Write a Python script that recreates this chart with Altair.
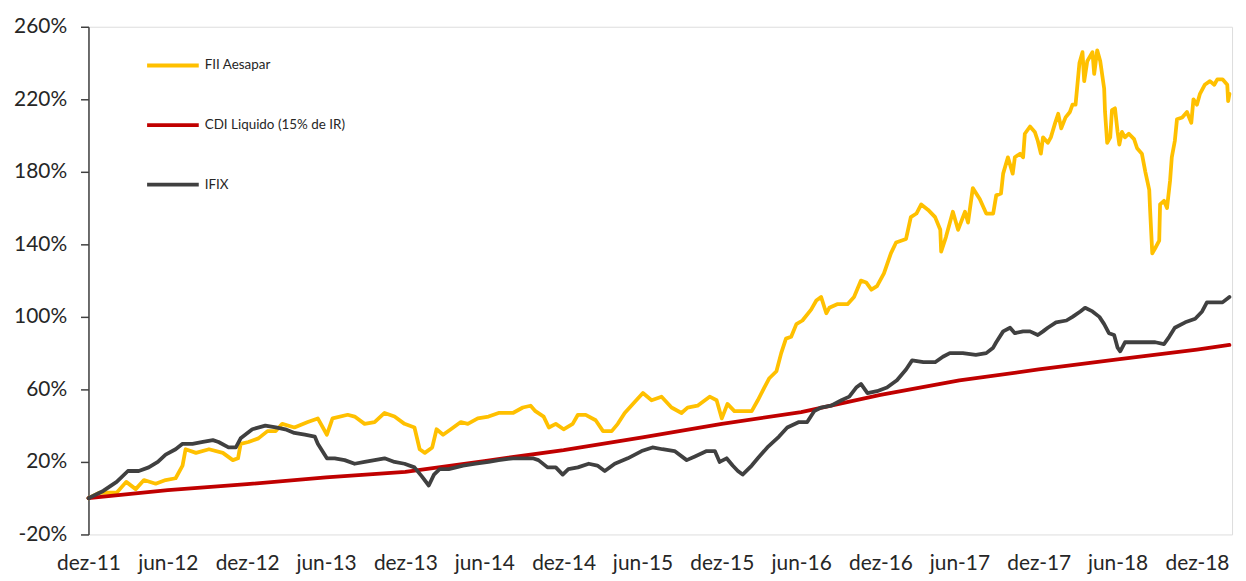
import altair as alt
import pandas as pd

# ---------------- data ----------------
fii_dates = [
    "2011-12-01", "2011-12-26", "2012-02-04", "2012-02-26", "2012-03-19", "2012-04-07", "2012-05-04",
    "2012-05-27", "2012-06-19", "2012-07-05", "2012-07-12", "2012-08-05", "2012-09-04", "2012-10-06",
    "2012-10-29", "2012-11-10", "2012-11-16", "2012-12-04", "2012-12-27", "2013-01-17", "2013-02-05",
    "2013-02-20", "2013-03-20", "2013-04-20", "2013-05-13", "2013-06-03", "2013-06-16", "2013-07-21",
    "2013-08-06", "2013-08-29", "2013-09-21", "2013-10-14", "2013-11-06", "2013-11-29", "2013-12-22",
    "2014-01-03", "2014-01-15", "2014-02-01", "2014-02-11", "2014-02-26", "2014-03-16", "2014-04-08",
    "2014-04-24", "2014-05-17", "2014-06-11", "2014-07-04", "2014-08-06", "2014-08-29", "2014-09-16",
    "2014-09-27", "2014-10-16", "2014-10-28", "2014-11-13", "2014-12-01", "2014-12-22", "2015-01-03",
    "2015-01-21", "2015-02-13", "2015-03-02", "2015-03-22", "2015-04-05", "2015-04-21", "2015-05-14",
    "2015-06-02", "2015-06-22", "2015-07-15", "2015-08-07", "2015-08-30", "2015-09-13", "2015-10-06",
    "2015-11-03", "2015-11-19", "2015-12-01", "2015-12-14", "2015-12-30", "2016-01-16", "2016-02-08",
    "2016-02-22", "2016-03-08", "2016-03-19", "2016-04-05", "2016-04-16", "2016-04-27", "2016-05-09",
    "2016-05-21", "2016-06-04", "2016-06-24", "2016-07-06", "2016-07-17", "2016-07-29", "2016-08-05",
    "2016-08-23", "2016-09-16", "2016-10-01", "2016-10-17", "2016-10-29", "2016-11-10", "2016-11-23",
    "2016-12-09", "2016-12-25", "2017-01-06", "2017-01-29", "2017-02-09", "2017-02-22", "2017-03-05",
    "2017-03-21", "2017-04-06", "2017-04-18", "2017-04-20", "2017-05-01", "2017-05-17", "2017-05-29",
    "2017-06-14", "2017-06-21", "2017-07-02", "2017-07-18", "2017-08-02", "2017-08-18", "2017-08-25",
    "2017-09-05", "2017-09-10", "2017-09-21", "2017-10-02", "2017-10-07", "2017-10-19", "2017-10-26",
    "2017-10-30", "2017-11-11", "2017-11-22", "2017-11-29", "2017-12-06", "2017-12-11", "2017-12-22",
    "2017-12-29", "2018-01-08", "2018-01-15", "2018-01-22", "2018-02-01", "2018-02-11", "2018-02-17",
    "2018-02-24", "2018-03-05", "2018-03-12", "2018-03-16", "2018-03-23", "2018-04-04", "2018-04-08",
    "2018-04-15", "2018-04-22", "2018-05-01", "2018-05-03", "2018-05-08", "2018-05-15", "2018-05-19",
    "2018-05-26", "2018-06-01", "2018-06-05", "2018-06-11", "2018-06-18", "2018-06-27", "2018-07-09",
    "2018-07-16", "2018-07-27", "2018-08-04", "2018-08-13", "2018-08-15", "2018-08-20", "2018-08-27",
    "2018-09-05", "2018-09-07", "2018-09-16", "2018-09-23", "2018-09-30", "2018-10-04", "2018-10-11",
    "2018-10-16", "2018-10-28", "2018-11-08", "2018-11-18", "2018-11-23", "2018-12-01", "2018-12-08",
    "2018-12-19", "2018-12-31", "2019-01-10", "2019-01-17", "2019-01-29", "2019-02-09", "2019-02-11",
    "2019-02-14",
]
fii_vals = [
    0, 3, 3, 9, 5, 10, 8,
    10, 11, 18, 27, 25, 27, 25,
    21, 22, 30, 31, 33, 37, 37,
    41, 39, 42, 44, 35, 44, 46,
    45, 41, 42, 47, 45, 41, 39,
    27, 25, 28, 38, 35, 38, 42,
    41, 44, 45, 47, 47, 50, 51,
    48, 45, 39, 41, 38, 41, 46,
    46, 43, 37, 37, 41, 47, 53,
    58, 54, 56, 50, 47, 50, 51,
    56, 54, 44, 52, 48, 48, 48,
    54, 61, 66, 70, 80, 88, 89,
    96, 98, 104, 109, 111, 102, 105,
    107, 107, 111, 120, 119, 115, 117,
    124, 135, 141, 143, 155, 157, 162,
    159, 155, 148, 136, 144, 158, 148,
    158, 152, 171, 165, 157, 157, 167,
    168, 179, 188, 179, 188, 190, 188,
    201, 205, 202, 197, 190, 199, 196,
    199, 207, 212, 204, 210, 213, 217,
    217, 240, 246, 230, 241, 246, 234,
    247, 241, 226, 213, 196, 199, 214,
    215, 202, 195, 202, 199, 201, 198,
    193, 190, 180, 170, 159, 135, 138,
    142, 162, 164, 160, 175, 188, 197,
    209, 210, 213, 207, 220, 217, 223,
    228, 230, 228, 231, 231, 228, 219,
    223,
]

ifix_dates = [
    "2011-12-01", "2012-01-04", "2012-02-04", "2012-03-01", "2012-03-26", "2012-04-18", "2012-05-09",
    "2012-05-27", "2012-06-19", "2012-07-05", "2012-07-28", "2012-08-21", "2012-09-13", "2012-09-26",
    "2012-10-19", "2012-11-05", "2012-11-16", "2012-12-13", "2013-01-12", "2013-02-05", "2013-02-27",
    "2013-03-20", "2013-04-13", "2013-05-06", "2013-05-13", "2013-06-03", "2013-06-21", "2013-07-14",
    "2013-08-06", "2013-08-29", "2013-09-21", "2013-10-14", "2013-11-06", "2013-11-29", "2013-12-22",
    "2014-01-08", "2014-01-24", "2014-02-05", "2014-02-18", "2014-03-11", "2014-04-13", "2014-05-12",
    "2014-06-11", "2014-07-04", "2014-08-06", "2014-08-29", "2014-09-21", "2014-10-04", "2014-10-25",
    "2014-11-13", "2014-11-29", "2014-12-12", "2015-01-03", "2015-01-28", "2015-02-17", "2015-03-06",
    "2015-03-29", "2015-04-28", "2015-05-30", "2015-06-24", "2015-07-17", "2015-08-14", "2015-09-11",
    "2015-09-30", "2015-10-27", "2015-11-15", "2015-11-26", "2015-12-12", "2015-12-26", "2016-01-07",
    "2016-01-18", "2016-02-08", "2016-02-22", "2016-03-15", "2016-04-11", "2016-04-30", "2016-05-27",
    "2016-06-15", "2016-07-01", "2016-07-17", "2016-08-09", "2016-09-02", "2016-09-20", "2016-10-06",
    "2016-10-17", "2016-11-01", "2016-11-23", "2016-12-16", "2017-01-08", "2017-01-29", "2017-02-12",
    "2017-03-10", "2017-04-06", "2017-04-24", "2017-05-10", "2017-06-09", "2017-07-09", "2017-08-02",
    "2017-08-18", "2017-08-25", "2017-09-10", "2017-09-26", "2017-10-07", "2017-10-26", "2017-11-11",
    "2017-11-29", "2017-12-11", "2017-12-22", "2018-01-10", "2018-02-03", "2018-02-17", "2018-03-07",
    "2018-03-18", "2018-04-04", "2018-04-20", "2018-05-01", "2018-05-12", "2018-05-24", "2018-06-01",
    "2018-06-07", "2018-06-18", "2018-07-11", "2018-08-04", "2018-08-27", "2018-09-16", "2018-09-28",
    "2018-10-11", "2018-11-04", "2018-11-27", "2018-12-13", "2018-12-24", "2019-01-12", "2019-01-29",
    "2019-02-14",
]
ifix_vals = [
    0, 4, 9, 15, 15, 17, 20,
    24, 27, 30, 30, 31, 32, 31,
    28, 28, 33, 38, 40, 39, 38,
    36, 35, 34, 30, 22, 22, 21,
    19, 20, 21, 22, 20, 19, 17,
    12, 7, 13, 16, 16, 18, 19,
    20, 21, 22, 22, 22, 21, 17,
    17, 13, 16, 17, 19, 18, 15,
    19, 22, 26, 28, 27, 26, 21,
    23, 26, 26, 20, 22, 18, 15,
    13, 18, 22, 28, 34, 39, 42,
    42, 48, 50, 51, 54, 56, 61,
    63, 58, 59, 61, 65, 71, 76,
    75, 75, 78, 80, 80, 79, 80,
    83, 86, 92, 94, 91, 92, 92,
    90, 92, 94, 97, 98, 100, 103,
    105, 103, 100, 96, 91, 90, 83,
    81, 86, 86, 86, 86, 85, 89,
    94, 97, 99, 103, 108, 108, 108,
    111,
]

cdi_dates = [
    "2011-12-01", "2012-06-01", "2012-12-01", "2013-06-01", "2013-12-01", "2014-06-01", "2014-12-01",
    "2015-06-01", "2015-12-01", "2016-06-01", "2016-12-01", "2017-06-01", "2017-12-01", "2018-06-01",
    "2018-12-01", "2019-02-14",
]
cdi_vals = [0, 4.5, 7.7, 11.5, 14.5, 20.5, 26.5, 33.5, 41, 47.5, 57, 65, 71, 76.5, 82, 84.5]

series_names = ["FII Aesapar", "CDI Liquido (15% de IR)", "IFIX"]
series_colors = ["#FFC000", "#C00000", "#404040"]

y_ticks = [-20, 20, 60, 100, 140, 180, 220, 260]
x_tick_years_months = [(2011 + (i + 1) // 2, 12 if i % 2 == 0 else 6) for i in range(15)]
month_names_pt = ["jan", "fev", "mar", "abr", "mai", "jun", "jul", "ago", "set", "out", "nov", "dez"]

# ---------------- table ----------------
frames = []
for name, dates, vals in [
    (series_names[0], fii_dates, fii_vals),
    (series_names[1], cdi_dates, cdi_vals),
    (series_names[2], ifix_dates, ifix_vals),
]:
    frames.append(pd.DataFrame({"date": dates, "value": vals, "serie": name}))
df = pd.concat(frames, ignore_index=True)

FONT = "Lato"

x_values = [alt.DateTime(year=y, month=m, date=1, utc=True) for (y, m) in x_tick_years_months]
month_arr = "[" + ",".join("'%s'" % m for m in month_names_pt) + "]"

chart = (
    alt.Chart(df)
    .mark_line(strokeWidth=3.8, strokeCap="round", strokeJoin="round")
    .encode(
        x=alt.X(
            "date:T",
            scale=alt.Scale(
                type="utc",
                domain=[
                    alt.DateTime(year=2011, month=12, date=1, utc=True),
                    alt.DateTime(year=2019, month=2, date=20, utc=True),
                ],
            ),
            axis=alt.Axis(
                values=x_values,
                labelExpr=month_arr + "[utcmonth(datum.value)] + '-' + utcFormat(datum.value, '%y')",
                domain=False,
                ticks=False,
                grid=False,
                labelFlush=False,
                labelOverlap=False,
                labelFont=FONT,
                labelFontSize=21,
                labelColor="#262626",
                labelPadding=18,
                title=None,
            ),
        ),
        y=alt.Y(
            "value:Q",
            scale=alt.Scale(domain=[-20, 260], nice=False, zero=False),
            axis=alt.Axis(
                values=y_ticks,
                labelExpr="datum.value + '%'",
                grid=False,
                domainColor="#404040",
                domainWidth=1.5,
                tickColor="#404040",
                tickWidth=1.5,
                tickSize=8,
                labelFont=FONT,
                labelFontSize=21,
                labelColor="#262626",
                labelPadding=14,
                title=None,
            ),
        ),
        color=alt.Color(
            "serie:N",
            sort=series_names,
            scale=alt.Scale(domain=series_names, range=series_colors),
            legend=alt.Legend(
                title=None,
                orient="none",
                legendX=57,
                legendY=11,
                symbolType="stroke",
                symbolSize=2704,
                symbolStrokeWidth=3.8,
                labelFont=FONT,
                labelFontSize=13.5,
                labelColor="#262626",
                labelOffset=4,
                rowPadding=24,
            ),
        ),
        order=alt.Order("date:T"),
    )
    .properties(
        width=1151,
        height=511,
        autosize=alt.AutoSizeParams(type="none"),
        padding={"left": 81, "top": 17, "right": 6, "bottom": 50},
    )
    .configure_view(strokeWidth=0)
    .configure(background="white")
)

chart.save("out.html", embed_options={"renderer": "svg", "actions": False})
